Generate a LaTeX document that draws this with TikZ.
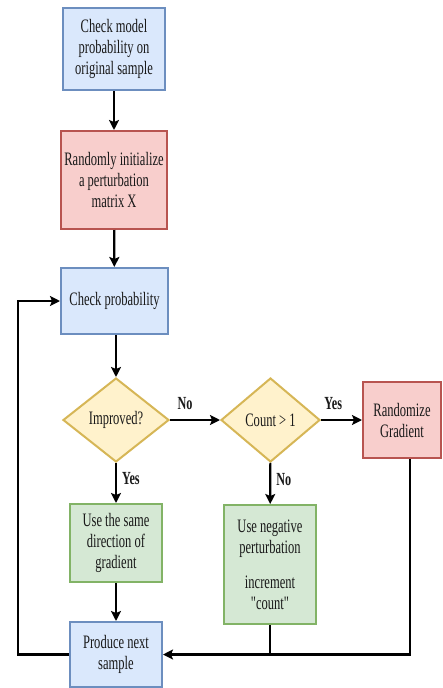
\documentclass[tikz,border=0pt]{standalone}
\usepackage{fontspec}
\setmainfont{Liberation Serif}[FakeStretch=0.66, Ligatures=TeXOff]
\usetikzlibrary{shapes.geometric,arrows.meta}
\definecolor{bfill}{HTML}{DAE8FC}\definecolor{bdraw}{HTML}{6C8EBF}
\definecolor{rfill}{HTML}{F8CECC}\definecolor{rdraw}{HTML}{B85450}
\definecolor{yfill}{HTML}{FFF2CC}\definecolor{ydraw}{HTML}{D6B656}
\definecolor{gfill}{HTML}{D5E8D4}\definecolor{gdraw}{HTML}{82B366}
\definecolor{txt}{HTML}{1A1A1A}
\tikzset{
  base/.style={line width=2pt, align=center, text=txt, inner sep=0pt,
    font=\fontsize{19}{21}\selectfont},
  bluebox/.style={base, rectangle, draw=bdraw, fill=bfill},
  redbox/.style={base, rectangle, draw=rdraw, fill=rfill},
  greenbox/.style={base, rectangle, draw=gdraw, fill=gfill},
  decision/.style={base, diamond, draw=ydraw, fill=yfill},
  conn/.style={line width=2.2pt, black, -{Stealth[length=10pt,width=10pt,inset=2pt]}},
  plain/.style={line width=2.2pt, black},
  lbl/.style={font=\fontsize{18.5}{18}\selectfont\bfseries, text=txt, inner sep=0pt}
}
\begin{document}
\begin{tikzpicture}[x=1pt,y=-1pt]
\useasboundingbox (0,0) rectangle (442,688);
\node[bluebox, minimum width=102pt, minimum height=82pt] (b1) at (114,49) {Check model\\probability on\\original sample};
\node[redbox, minimum width=106pt, minimum height=98pt] (b2) at (114,180) {Randomly initialize\\a perturbation\\matrix X};
\node[bluebox, minimum width=107pt, minimum height=66pt] (b3) at (114.5,301) {Check probability};
\node[decision, minimum width=106pt, minimum height=84pt] (d1) at (116,420) {Improved?};
\node[decision, minimum width=99pt, minimum height=84pt] (d2) at (270.5,420) {Count > 1};
\node[redbox, minimum width=78pt, minimum height=76pt] (r) at (402,420) {Randomize\\Gradient};
\node[greenbox, minimum width=92pt, minimum height=78pt] (g1) at (116,543) {Use the same\\direction of\\gradient};
\node[greenbox, minimum width=92pt, minimum height=119pt] (g2) at (270,564.5) {Use negative\\perturbation\\[14pt]increment\\"count"};
\node[bluebox, minimum width=92pt, minimum height=65pt] (p) at (116,654.5) {Produce next\\sample};
\coordinate (cl) at (18,654.5);
\coordinate (cr) at (410,654.5);
\coordinate (cm) at (270,654.5);
\draw[conn] (b1) -- (b2);
\draw[conn] (b2) -- (b3);
\draw[conn] (b3.south -| d1.north) -- (d1);
\draw[conn] (d1) -- node[lbl, above=9pt, pos=0.3]{No} (d2);
\draw[conn] (d2) -- node[lbl, above=9pt, pos=0.3]{Yes} (r);
\draw[conn] (d1) -- node[lbl, right=5pt, pos=0.4]{Yes} (g1);
\draw[conn] (d2) -- node[lbl, right=5pt, pos=0.4]{No} (g2);
\draw[conn] (g1) -- (p);
\draw[conn] (p.west) -- (cl) |- (b3.west);
\draw[conn] (r.south -| cr) -- (cr) -- (p.east);
\draw[plain] (g2) -- (cm);
\end{tikzpicture}
\end{document}
